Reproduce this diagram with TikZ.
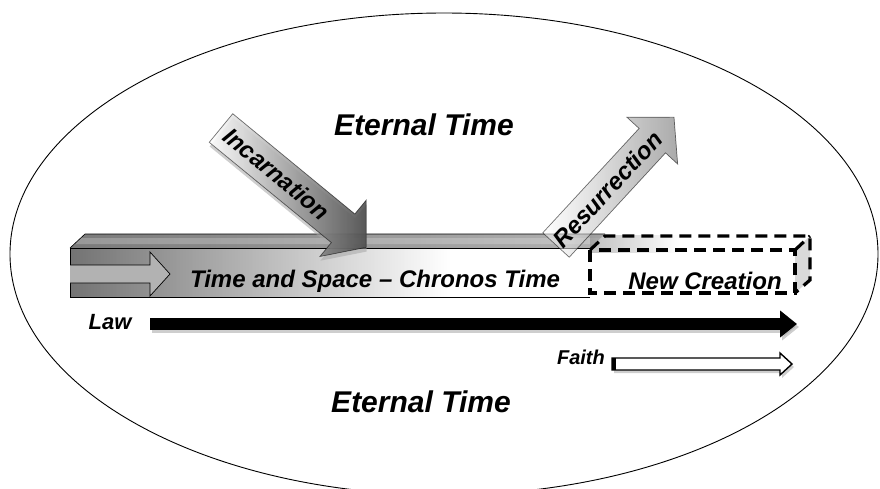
\documentclass[tikz,border=0pt]{standalone}
\usepackage{fontspec}
\setmainfont{Liberation Sans}
\usetikzlibrary{positioning,arrows.meta,calc}

\begin{document}
\begin{tikzpicture}[x=1pt,y=-1pt,
  txt/.style={inner sep=0pt,font=\fontsize{24}{28}\selectfont\bfseries\itshape},
  title/.style={inner sep=0pt,font=\fontsize{30}{34}\selectfont\bfseries\itshape},
  fat/.style={draw=black,line width=0.7pt},
  dashbox/.style={line width=3.2pt,dash pattern=on 12pt off 7pt},
  shade/.style={black!35,opacity=0.55}]
  \useasboundingbox (0,0) rectangle (880,488);
  \clip (0,0) rectangle (880,488);
  \draw[line width=0.9pt] (444,254) ellipse [x radius=434,y radius=241];
  % time bar
  \shade[left color=black!95,right color=black!55] (70,248) -- (85,234) -- (605,234) -- (590,248) -- cycle;
  \fill[white,opacity=0.22] (75,244) -- (81,238) -- (601,238) -- (595,244) -- cycle;
  \draw[line width=0.6pt] (70,248) -- (85,234) -- (605,234);
  \shade[left color=black!45,right color=white] (590,235) rectangle (680,252);
  \shade[left color=black,right color=white] (70,248) rectangle (450,297);
  \fill[white] (450,248) rectangle (590,297);
  \draw[line width=0.6pt] (70,248) -- (590,248) (70,297) -- (590,297) (70,248) -- (70,297);
  \draw[line width=0.7pt,fill=black!30] (70,265) -- (150,265) -- (150,252) -- (170,274) -- (150,296) -- (150,283) -- (70,283);
  % new creation box
  \fill[black!15] (795,250) -- (810,236) -- (810,280) -- (795,293) -- cycle;
  \draw[dashbox] (590,250) rectangle (795,293);
  \draw[dashbox] (590,250) -- (605,236) -- (810,236) -- (810,280) -- (795,293);
  \draw[dashbox] (795,250) -- (810,236);
  \node[txt] (chronos) at (375,281) {Time and Space -- Chronos Time};
  \node[txt] (newc) at (705,281) {New Creation};
  % incarnation
  \begin{scope}[shift={(221,128)},rotate=-39.4]
    \fill[shade] (3,-15.5) -- (161,-15.5) -- (161,-33.5) -- (191,3) -- (161,39.5) -- (161,21.5) -- (3,21.5) -- cycle;
    \shade[fat,left color=white,right color=black!70,fill opacity=0.9] (0,-18.5) -- (158,-18.5) -- (158,-36.5) -- (188,0) -- (158,36.5) -- (158,18.5) -- (0,18.5) -- cycle;
    \node[txt,transform shape] (inc) at (72,0) {Incarnation};
  \end{scope}
  % resurrection
  \begin{scope}[shift={(556,245)},rotate=47.3]
    \shade[fat,left color=white,right color=black!60] (0,-18) -- (142,-18) -- (142,-34.5) -- (174,0) -- (142,34.5) -- (142,18) -- (0,18) -- cycle;
    \node[txt,transform shape] (res) at (76,0) {Resurrection};
  \end{scope}
  % law and faith
  \coordinate (lawS) at (150,324);
  \coordinate (lawE) at (797,324);
  \draw[shade,line width=12pt,-{Triangle[length=17pt,width=26pt]}] ([shift={(2,3)}]lawS) -- ([shift={(2,3)}]lawE);
  \draw[line width=12pt,-{Triangle[length=17pt,width=26pt]}] (lawS) -- (lawE);
  \node[txt,font=\fontsize{22}{26}\selectfont\bfseries\itshape] (law) at (110,322) {Law};
  \fill[shade] (614,361) -- (782,361) -- (782,356) -- (794,367) -- (782,378) -- (782,373) -- (614,373) -- cycle;
  \draw[line width=1.4pt,fill=white] (612,358) -- (780,358) -- (780,353) -- (792,364) -- (780,375) -- (780,370) -- (612,370) -- cycle;
  \fill (612,358) rectangle (616,370);
  \node[txt,font=\fontsize{20}{24}\selectfont\bfseries\itshape,anchor=east] (faith) at (605,357) {Faith};
  \node[title] (topT) at (424,125) {Eternal Time};
  \node[title] (botT) at (421,402) {Eternal Time};
\end{tikzpicture}
\end{document}
